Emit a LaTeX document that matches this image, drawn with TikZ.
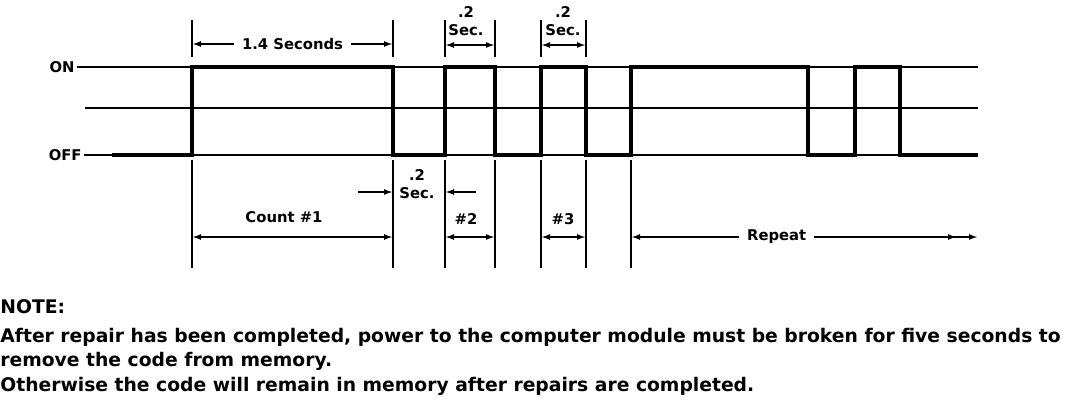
\documentclass[tikz,border=0pt]{standalone}
\usepackage{fontspec}
\setmainfont{DejaVu Sans}
\usetikzlibrary{arrows.meta,positioning}

\begin{document}
\begin{tikzpicture}[x=0.5pt,y=-0.5pt,
  refline/.style={line width=1.4pt},
  signal/.style={line width=2.1pt,line join=miter},
  ext/.style={line width=1pt},
  dim/.style={{Latex[length=4.5pt,width=3pt]}-{Latex[length=4.5pt,width=3pt]},line width=1pt},
  pointer/.style={-{Latex[length=4.5pt,width=3pt]},line width=1pt},
  lbl/.style={font=\bfseries\fontsize{7.4}{9}\selectfont,inner sep=1pt},
  note/.style={font=\bfseries\fontsize{9.37}{12}\selectfont,anchor=base west,inner sep=0pt}]
  \useasboundingbox (0,0) rectangle (1072,402);

  % levels
  \node[lbl,anchor=east] (on)  at (77,67)  {ON};
  \node[lbl,anchor=east] (off) at (84,155) {OFF};
  \coordinate (onend)  at (978,67);
  \coordinate (midbeg) at (85,108);
  \coordinate (midend) at (978,108);
  \coordinate (offend) at (978,155);
  \draw[refline] (on.east) -- (onend);
  \draw[refline] (midbeg) -- (midend);
  \draw[refline] (off.east) -- (offend);

  % code pulses
  \draw[signal] (112,155) -- (192,155) -- (192,67) -- (393,67) -- (393,155)
    -- (445,155) -- (445,67) -- (495,67) -- (495,155)
    -- (541,155) -- (541,67) -- (586,67) -- (586,155)
    -- (631,155) -- (631,67) -- (808,67) -- (808,155)
    -- (855,155) -- (855,67) -- (900,67) -- (900,155) -- (978,155);

  % extension lines
  \foreach \x in {192,393,445,495,541,586}
    \draw[ext] (\x,20) -- (\x,57);
  \foreach \x in {192,393,445,495,541,586,631}
    \draw[ext] (\x,160) -- (\x,268);

  % dimensions above
  \coordinate (secA) at (192,44);
  \coordinate (secB) at (393,44);
  \draw[dim] (secA) -- node[lbl,fill=white,inner xsep=4pt] (secs) {1.4 Seconds} (secB);
  \coordinate (p2a) at (445,45);
  \coordinate (p2b) at (495,45);
  \draw[dim] (p2a) -- (p2b);
  \node[lbl,align=center] (sec2) at (466,21) {.2\\Sec.};
  \coordinate (p3a) at (541,45);
  \coordinate (p3b) at (586,45);
  \draw[dim] (p3a) -- (p3b);
  \node[lbl,align=center] (sec3) at (563,21) {.2\\Sec.};

  % dimensions below
  \node[lbl,align=center] (gap) at (417,184) {.2\\Sec.};
  \coordinate (gapL) at (358,192);
  \coordinate (gapR) at (476,192);
  \draw[pointer] (gapL) -- (393,192);
  \draw[pointer] (gapR) -- (445,192);
  \node[lbl] (count1) at (284,217) {Count \#1};
  \draw[dim] (192,237) -- (393,237);
  \node[lbl] (count2) at (466,219) {\#2};
  \draw[dim] (445,237) -- (495,237);
  \node[lbl] (count3) at (563,219) {\#3};
  \draw[dim] (541,237) -- (586,237);
  \coordinate (repA) at (631,237);
  \coordinate (repB) at (978,237);
  \draw[{Latex[length=4.5pt,width=3pt]}-{Latex[length=4.5pt,width=3pt,sep=6pt]Latex[length=4.5pt,width=3pt]},line width=1pt]
    (repA) -- node[lbl,fill=white,inner xsep=4pt,pos=0.42] (rep) {Repeat} (repB);

  % note
  \node[note] (notehd) at (0,313) {NOTE:};
  \node[note] (note1) at (0,342) {After repair has been completed, power to the computer module must be broken for five seconds to};
  \node[note] (note2) at (0,366) {remove the code from memory.};
  \node[note] (note3) at (0,391) {Otherwise the code will remain in memory after repairs are completed.};
\end{tikzpicture}
\end{document}
